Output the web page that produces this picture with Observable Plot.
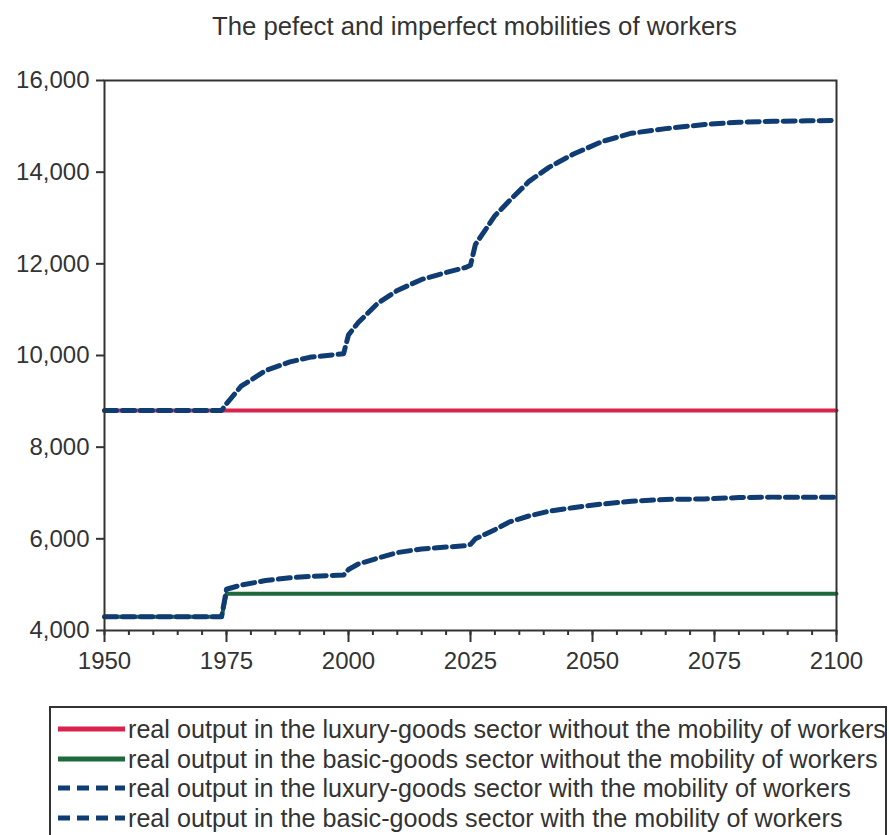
<!DOCTYPE html>
<html>
<head>
<meta charset="utf-8">
<script src="https://cdn.jsdelivr.net/npm/d3@7"></script>
<script src="https://cdn.jsdelivr.net/npm/@observablehq/plot@0.6"></script>
<style>
  html, body { margin: 0; padding: 0; background: #fff; }
  #wrap { width: 889px; }
  svg { display: block; }
</style>
</head>
<body>
<div id="wrap"></div>
<script>
const titleText = "The pefect and imperfect mobilities of workers";

const years = [1950, 1974, 1975, 1978, 1983, 1988, 1992, 1999, 2000, 2002, 2006, 2010, 2015, 2020, 2024, 2025, 2026, 2030, 2033, 2037, 2041, 2046, 2052, 2058, 2065, 2073, 2080, 2087, 2094, 2100];

const luxuryNoMobility = [8800, 8800, 8800, 8800, 8800, 8800, 8800, 8800, 8800, 8800, 8800, 8800, 8800, 8800, 8800, 8800, 8800, 8800, 8800, 8800, 8800, 8800, 8800, 8800, 8800, 8800, 8800, 8800, 8800, 8800];
const basicNoMobility = [4300, 4300, 4800, 4800, 4800, 4800, 4800, 4800, 4800, 4800, 4800, 4800, 4800, 4800, 4800, 4800, 4800, 4800, 4800, 4800, 4800, 4800, 4800, 4800, 4800, 4800, 4800, 4800, 4800, 4800];
const luxuryMobility = [8800, 8800, 8950, 9330, 9670, 9860, 9960, 10040, 10450, 10720, 11140, 11420, 11660, 11810, 11920, 11970, 12420, 13050, 13380, 13800, 14100, 14390, 14670, 14850, 14950, 15040, 15090, 15110, 15120, 15130];
const basicMobility = [4300, 4300, 4900, 4990, 5090, 5150, 5180, 5210, 5330, 5450, 5580, 5700, 5780, 5820, 5850, 5880, 6000, 6200, 6370, 6500, 6600, 6680, 6760, 6820, 6860, 6870, 6900, 6910, 6910, 6910];

const seriesNames = [
  "real output in the luxury-goods sector without the mobility of workers",
  "real output in the basic-goods sector without the mobility of workers",
  "real output in the luxury-goods sector with the mobility of workers",
  "real output in the basic-goods sector with the mobility of workers"
];
const seriesColors = ["#d9234c", "#1f6a3c", "#0f3c73", "#0f3c73"];
const seriesDashed = [false, false, true, true];

const yTicks = [4000, 6000, 8000, 10000, 12000, 14000, 16000];
const xTicks = [1950, 1975, 2000, 2025, 2050, 2075, 2100];
const xMinorTicks = d3.range(1950, 2101, 5);

const seriesValues = [luxuryNoMobility, basicNoMobility, luxuryMobility, basicMobility];
const rows = seriesValues.map(vals => years.map((yr, i) => ({year: yr, value: vals[i]})));

const wrap = document.getElementById("wrap");
const narrow = "'Liberation Sans Narrow', 'Arial Narrow', 'Liberation Sans', Arial, sans-serif";

// Title
const tsvg = d3.select(wrap).append("svg").attr("width", 889).attr("height", 50);
const tt = tsvg.append("text").attr("x", 0).attr("y", 35)
  .attr("font-family", narrow).attr("font-size", 25).attr("fill", "#333")
  .text(titleText);
{
  const w = tt.node().getComputedTextLength();
  const s = 525 / w;
  tt.attr("transform", `translate(212,0) scale(${s},1)`);
}

// Chart
const chart = Plot.plot({
  width: 889,
  height: 640,
  marginTop: 30,
  marginLeft: 104,
  marginRight: 53,
  marginBottom: 60,
  style: {fontFamily: "'Liberation Sans', Arial, sans-serif", fontSize: "24px", color: "#333", background: "#fff"},
  x: {domain: [1950, 2100]},
  y: {domain: [4000, 16000]},
  marks: [
    Plot.lineY(rows[0], {x: "year", y: "value", stroke: seriesColors[0], strokeWidth: 4}),
    Plot.lineY(rows[1], {x: "year", y: "value", stroke: seriesColors[1], strokeWidth: 4}),
    Plot.lineY(rows[2], {x: "year", y: "value", stroke: seriesColors[2], strokeWidth: 5, strokeDasharray: "12,6"}),
    Plot.lineY(rows[3], {x: "year", y: "value", stroke: seriesColors[3], strokeWidth: 5, strokeDasharray: "12,6"}),
    Plot.frame({stroke: "#333", strokeWidth: 2}),
    Plot.axisY({ticks: yTicks, tickFormat: d3.format(","), tickSize: 8, tickPadding: 7, strokeWidth: 2, label: null}),
    Plot.axisX({ticks: xMinorTicks, tickFormat: () => "", tickSize: 5, strokeWidth: 2, label: null}),
    Plot.axisX({ticks: xTicks, tickFormat: d => String(d), tickSize: 12, tickPadding: 9, strokeWidth: 2, label: null})
  ]
});
wrap.appendChild(chart);

// Legend
const lsvg = d3.select(wrap).append("svg").attr("width", 889).attr("height", 145);
lsvg.append("rect").attr("x", 50).attr("y", 17).attr("width", 836).attr("height", 140)
  .attr("fill", "none").attr("stroke", "#333").attr("stroke-width", 2);
const rowY = [39, 69, 98, 128];
const texts = [];
seriesNames.forEach((name, i) => {
  lsvg.append("line").attr("x1", 58).attr("x2", 125).attr("y1", rowY[i]).attr("y2", rowY[i])
    .attr("stroke", seriesColors[i]).attr("stroke-width", 5)
    .attr("stroke-dasharray", seriesDashed[i] ? "12,7" : null);
  texts.push(lsvg.append("text").attr("y", rowY[i]).attr("dy", "0.36em")
    .attr("font-family", narrow).attr("font-size", 25).attr("fill", "#333").text(name));
});
{
  const w = texts[0].node().getComputedTextLength();
  const s = 758 / w;
  texts.forEach(t => t.attr("transform", `translate(128,0) scale(${s},1)`));
}
</script>
</body>
</html>
